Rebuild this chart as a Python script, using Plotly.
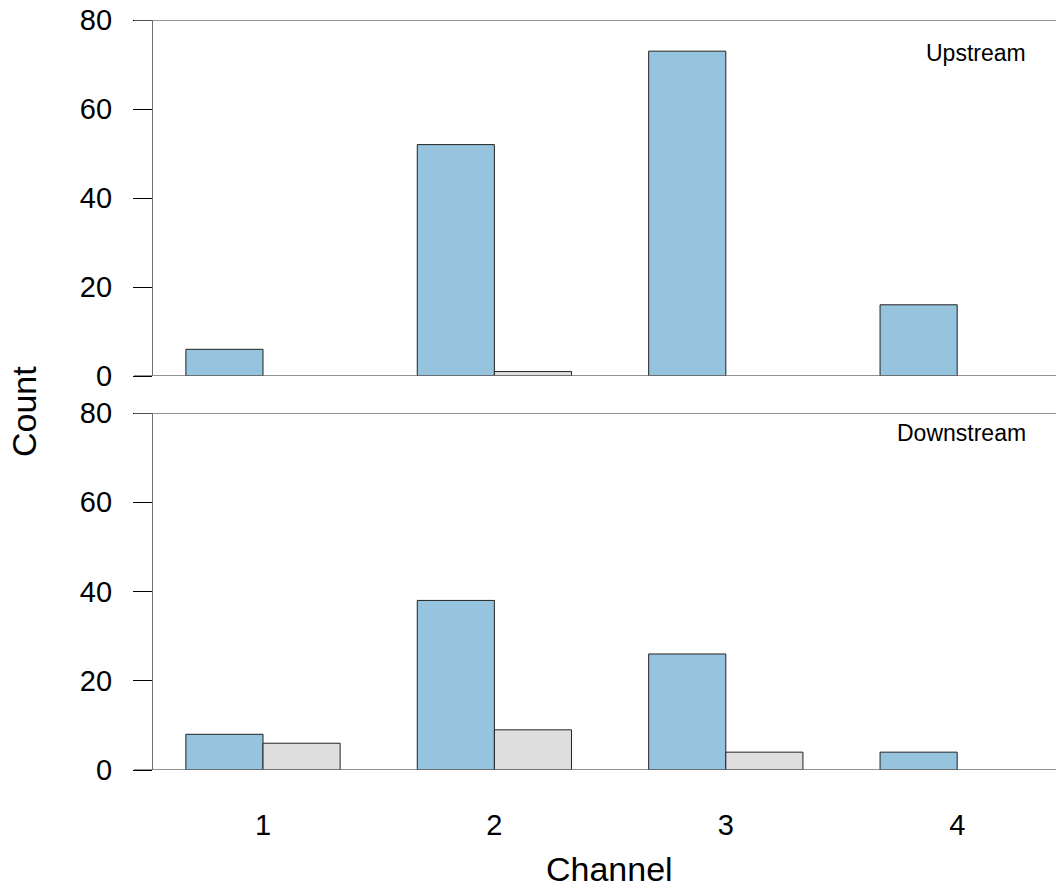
import plotly.graph_objects as go
from plotly.subplots import make_subplots

channels = [1, 2, 3, 4]
up_blue = [6, 52, 73, 16]
up_grey = [0, 1, 0, 0]
down_blue = [8, 38, 26, 4]
down_grey = [6, 9, 4, 0]
y_ticks = [0, 20, 40, 60, 80]

BLUE = "#96C3DD"
GREY = "#DEDEDE"
EDGE = "#222222"
AXG = "#6E6E6E"
FONT = "Arial, Liberation Sans, sans-serif"

fig = make_subplots(rows=2, cols=1, shared_xaxes=False, vertical_spacing=0.05)

def edge_widths(vals):
    return [0 if v == 0 else 1 for v in vals]

def add_panel(row, blue, grey):
    fig.add_trace(go.Bar(x=channels, y=blue, width=1/3, offset=-1/3,
                         marker=dict(color=BLUE, line=dict(color=EDGE, width=edge_widths(blue))),
                         showlegend=False), row=row, col=1)
    fig.add_trace(go.Bar(x=channels, y=grey, width=1/3, offset=0,
                         marker=dict(color=GREY, line=dict(color=EDGE, width=edge_widths(grey))),
                         showlegend=False), row=row, col=1)

add_panel(1, up_blue, up_grey)
add_panel(2, down_blue, down_grey)

W, H = 1056, 888
L, R, T, B = 153, 0, 20, 118
pw = W - L - R
ph = H - T - B

def px_x(p):
    return (p - L) / pw

def px_y(p):
    return (H - B - p) / ph

top_dom = [px_y(376), 1.0]
bot_dom = [0.0, px_y(413)]

xr = [0.5246, 4.427]
common_y = dict(range=[0, 80], tickvals=y_ticks, ticks="outside", ticklen=19,
                tickcolor="black", tickwidth=1, showline=True, linecolor=AXG,
                linewidth=1.3, showgrid=False, zeroline=False,
                tickfont=dict(family=FONT, size=29, color="black"),
                ticklabelstandoff=15)

fig.update_layout(
    width=W, height=H,
    margin=dict(l=L, r=R, t=T, b=B),
    plot_bgcolor="white", paper_bgcolor="white",
    barmode="overlay",
    xaxis=dict(domain=[0, 1], range=xr, showticklabels=False, ticks="",
               showline=False, showgrid=False, zeroline=False),
    xaxis2=dict(domain=[0, 1], range=xr, tickvals=channels,
                ticktext=[str(c) for c in channels], ticks="",
                showline=False, showgrid=False, zeroline=False,
                tickfont=dict(family=FONT, size=29, color="black"),
                ticklabelstandoff=35),
    yaxis=dict(domain=top_dom, **common_y),
    yaxis2=dict(domain=bot_dom, **common_y),
)

# horizontal frame lines at 0 and 80 for each panel (extend across tick area)
x0 = -19 / pw
for yref in ["y", "y2"]:
    for v in [0, 80]:
        fig.add_shape(type="line", xref="paper", yref=yref, x0=x0, x1=1,
                      y0=v, y1=v, line=dict(color=AXG, width=1.3), layer="above")

fig.add_annotation(text="Count", xref="paper", yref="paper", x=px_x(24), y=px_y(412),
                   showarrow=False, textangle=-90, xanchor="center", yanchor="middle",
                   font=dict(family=FONT, size=34, color="black"))
fig.add_annotation(text="Channel", xref="paper", yref="paper", x=px_x(609), y=px_y(869),
                   showarrow=False, xanchor="center", yanchor="middle",
                   font=dict(family=FONT, size=34, color="black"))
fig.add_annotation(text="Upstream", xref="paper", yref="paper", x=px_x(1028), y=px_y(53),
                   showarrow=False, xanchor="right", yanchor="middle",
                   font=dict(family=FONT, size=23, color="black"))
fig.add_annotation(text="Downstream", xref="paper", yref="paper", x=px_x(1028), y=px_y(433),
                   showarrow=False, xanchor="right", yanchor="middle",
                   font=dict(family=FONT, size=23, color="black"))

fig.write_html("out.html",
               config={"displayModeBar": False},
               post_script="document.body.style.margin='0';document.body.style.overflow='hidden';")
